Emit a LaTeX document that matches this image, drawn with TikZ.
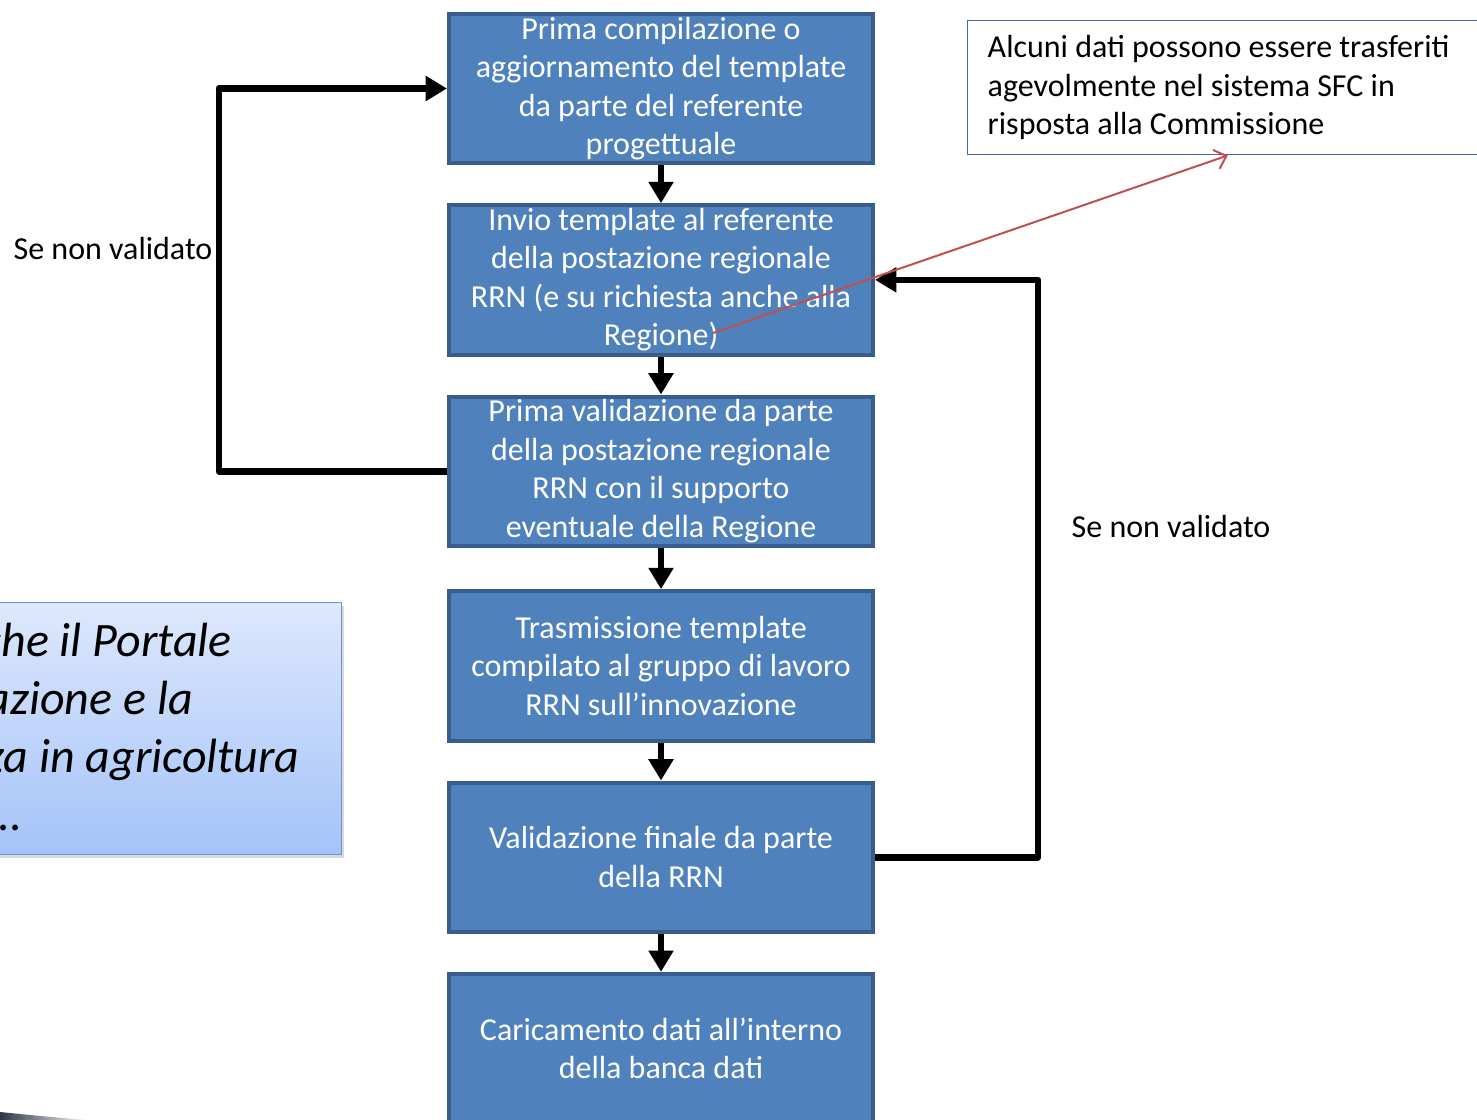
\documentclass[tikz,border=0pt]{standalone}
\usepackage{fontspec}
\setmainfont{Carlito}
\usepackage{tikz}
\usetikzlibrary{arrows.meta, positioning, calc, shadows}
\definecolor{boxblue}{RGB}{79,129,189}
\definecolor{boxedge}{RGB}{56,93,138}
\definecolor{linkred}{RGB}{192,80,77}
\definecolor{notaedge}{RGB}{65,105,170}
\definecolor{avvtop}{RGB}{221,232,252}
\definecolor{avvbot}{RGB}{164,195,248}
\definecolor{avvedge}{RGB}{108,148,208}
\definecolor{swoosh}{RGB}{45,55,68}
\tikzset{
  fase/.style={rectangle, draw=boxedge, fill=boxblue, line width=3pt,
    minimum width=318pt, minimum height=112pt, inner sep=0pt, text=white,
    font=\fontsize{24}{28.8}\selectfont, align=center},
  nota/.style={rectangle, draw=notaedge, fill=white, line width=1.1pt,
    minimum height=100.5pt, inner xsep=15pt, inner ysep=0pt, text width=360pt,
    font=\fontsize{24}{28.8}\selectfont, align=left,
    execute at begin node={\spaceskip=0pt\xspaceskip=0pt}},
  avviso/.style={rectangle, draw=avvedge, line width=1.1pt, top color=avvtop,
    bottom color=avvbot, minimum width=264.75pt, minimum height=189pt,
    drop shadow={shadow xshift=2pt, shadow yshift=-2.5pt, opacity=0.3}},
  avvtxt/.style={anchor=base east, inner sep=0pt, font=\fontsize{36}{43.5}\selectfont\itshape},
  lbl/.style={font=\fontsize{24}{28.8}\selectfont, inner sep=0pt},
  flow/.style={-{Triangle[length=16pt,width=18pt]}, line width=5pt, black},
  back/.style={-{Triangle[length=16pt,width=18pt]}, line width=5pt, black, line join=round},
  link/.style={-{Straight Barb[length=8pt,width=15pt,line width=1.5pt]}, line width=1.5pt, linkred}
}
\begin{document}
\begin{tikzpicture}[x=0.75pt, y=-0.75pt, node distance=28.5pt]
  \useasboundingbox (0,0) rectangle (1477,1120);
  \clip (0,0) rectangle (1477,1120);
  % flusso principale
  \node[fase] (b1) at (661,88.5) {Prima compilazione o\\aggiornamento del template\\da parte del referente\\progettuale};
  \node[fase, below=of b1] (b2) {Invio template al referente\\della postazione regionale\\RRN (e su richiesta anche alla\\Regione)};
  \node[fase, below=of b2] (b3) {Prima validazione da parte\\della postazione regionale\\RRN con il supporto\\eventuale della Regione};
  \node[fase, below=31pt of b3] (b4) {Trasmissione template\\compilato al gruppo di lavoro\\RRN sull'innovazione};
  \node[fase, below=of b4] (b5) {Validazione finale da parte\\della RRN};
  \node[fase, below=of b5] (b6) {Caricamento dati all'interno\\della banca dati};
  \draw[flow] (b1) -- (b2);
  \draw[flow] (b2) -- (b3);
  \draw[flow] (b3) -- (b4);
  \draw[flow] (b4) -- (b5);
  \draw[flow] (b5) -- (b6);
  % ritorni
  \draw[back] (b3.west) -- ++(-228,0) |- (b1.west);
  \draw[back] (b5.east) -- ++(163,0) |- (b2.east);
  \node[lbl] (snv1) at (113,249) {Se non validato};
  \node[lbl] (snv2) at (1171,527) {Se non validato};
  % nota SFC
  \node[nota, anchor=north west] (nota) at (967,20) {Alcuni dati possono essere trasferiti\\agevolmente nel sistema SFC in\\risposta alla Commissione};
  \coordinate (rs) at (713,333);
  \draw[link] (rs) -- (nota.south);
  % riquadro a sinistra
  \node[avviso, anchor=north west] (avviso) at (-12,602) {};
  \node[avvtxt] (av1) at (232,656) {che il Portale};
  \node[avvtxt] (av2) at (193,714) {azione e la};
  \node[avvtxt] (av3) at (300,772) {za in agricoltura};
  \node[avvtxt] (av4) at (23,830) {...};
  % ombra in basso
  \shade[left color=swoosh, right color=white] (0,1112) .. controls (30,1115) and (60,1118) .. (90,1120) -- (0,1120) -- cycle;
\end{tikzpicture}
\end{document}
